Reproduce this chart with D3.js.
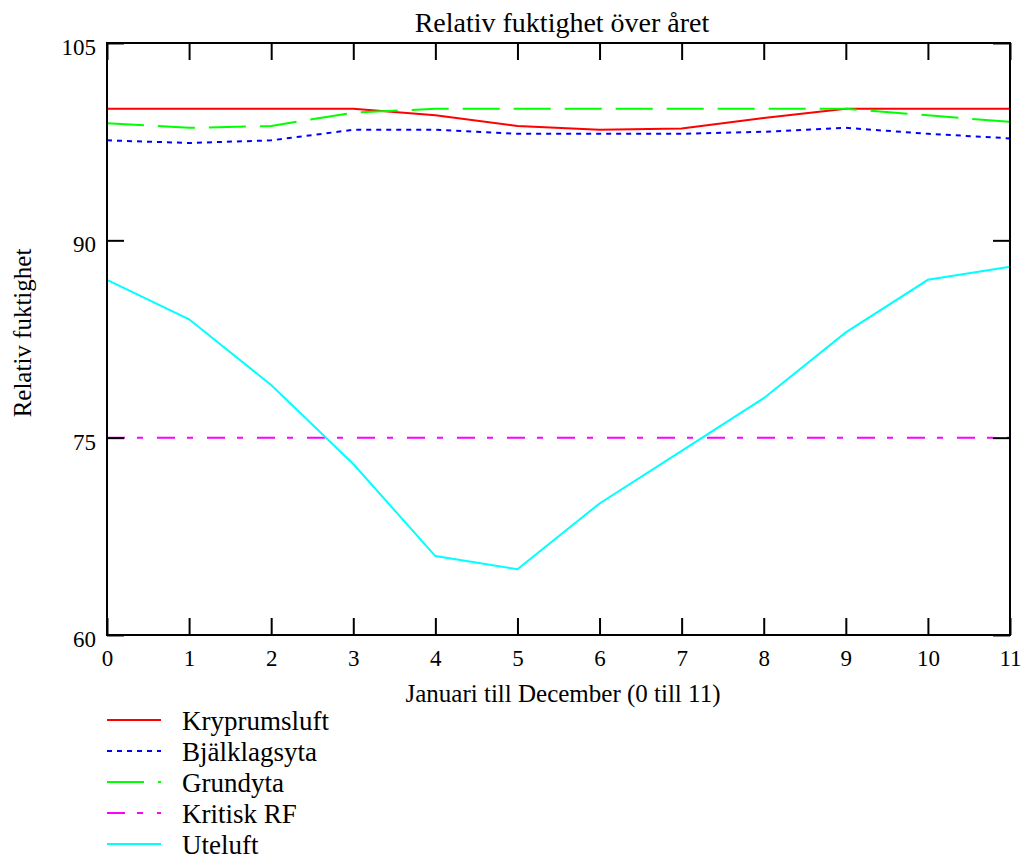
<!DOCTYPE html>
<html>
<head>
<meta charset="utf-8">
<script src="https://cdn.jsdelivr.net/npm/d3@7"></script>
<style>
  body { margin: 0; background: #fff; }
  text { font-family: "Liberation Serif", "Times New Roman", serif; fill: #000; }
</style>
</head>
<body>
<div id="chart"></div>
<script>
// months 0..11
var months = [0, 1, 2, 3, 4, 5, 6, 7, 8, 9, 10, 11];
var kryprumsluft = [100, 100, 100, 100, 99.5, 98.7, 98.4, 98.5, 99.3, 100, 100, 100];
var bjalklagsyta = [97.6, 97.4, 97.6, 98.4, 98.4, 98.1, 98.1, 98.1, 98.25, 98.55, 98.1, 97.75];
var grundyta = [98.9, 98.55, 98.7, 99.7, 100, 100, 100, 100, 100, 100, 99.5, 99.0];
var kritiskRF = [75, 75, 75, 75, 75, 75, 75, 75, 75, 75, 75, 75];
var uteluft = [87, 84, 79, 73, 66, 65, 70, 74, 78, 83, 87, 88];
var yTicks = [60, 75, 90, 105];
var xTicks = months;

var seriesNames = ["Kryprumsluft", "Bjälklagsyta", "Grundyta", "Kritisk RF", "Uteluft"];
var seriesValues = [kryprumsluft, bjalklagsyta, grundyta, kritiskRF, uteluft];
var colors = ["#ff0000", "#0000ff", "#00ff00", "#ff00ff", "#00ffff"];
var dashes = [null, "5,5", "37,14", "18,12,6,14", null];

var w = 1026, h = 863;
var plotL = 107, plotR = 1010, plotT = 43, plotB = 635;

var svg = d3.select("#chart").append("svg")
    .attr("width", w)
    .attr("height", h);

var x = d3.scaleLinear().domain([0, 11]).range([plotL, plotR]);
var y = d3.scaleLinear().domain([60, 105]).range([plotB, plotT]);

// lines
var line = d3.line()
    .x(function(d, i) { return x(months[i]); })
    .y(function(d) { return y(d); });

seriesValues.forEach(function(vals, k) {
    svg.append("path")
        .datum(vals)
        .attr("d", line)
        .attr("fill", "none")
        .attr("stroke", colors[k])
        .attr("stroke-width", 2)
        .attr("stroke-dasharray", dashes[k]);
});

// axes with inward ticks
function styleAxis(g) {
    g.select(".domain").remove();
    g.selectAll(".tick line").attr("stroke", "#000").attr("stroke-width", 2);
    g.selectAll(".tick text").attr("font-size", "23px")
        .attr("font-family", "Liberation Serif, serif").attr("fill", "#000");
}

svg.append("g")
    .attr("transform", "translate(0," + plotB + ")")
    .call(d3.axisBottom(x).tickValues(xTicks).tickSizeInner(-17).tickSizeOuter(0).tickPadding(15))
    .call(styleAxis);

svg.append("g")
    .attr("transform", "translate(0," + plotT + ")")
    .call(d3.axisTop(x).tickValues(xTicks).tickSizeInner(-17).tickSizeOuter(0).tickFormat(""))
    .call(styleAxis);

svg.append("g")
    .attr("transform", "translate(" + plotL + ",0)")
    .call(d3.axisLeft(y).tickValues(yTicks).tickSizeInner(-17).tickSizeOuter(0).tickPadding(11))
    .call(styleAxis)
    .selectAll(".tick text").attr("dy", "0.5em");

svg.append("g")
    .attr("transform", "translate(" + plotR + ",0)")
    .call(d3.axisRight(y).tickValues(yTicks).tickSizeInner(-17).tickSizeOuter(0).tickFormat(""))
    .call(styleAxis);

// frame
svg.append("rect")
    .attr("x", plotL)
    .attr("y", plotT)
    .attr("width", plotR - plotL)
    .attr("height", plotB - plotT)
    .attr("fill", "none")
    .attr("stroke", "#000")
    .attr("stroke-width", 2);

// title and axis labels
svg.append("text")
    .attr("x", 562)
    .attr("y", 32)
    .attr("text-anchor", "middle")
    .attr("font-size", "28px")
    .text("Relativ fuktighet över året");

svg.append("text")
    .attr("x", 563)
    .attr("y", 702)
    .attr("text-anchor", "middle")
    .attr("font-size", "25px")
    .text("Januari till December (0 till 11)");

svg.append("text")
    .attr("transform", "translate(31,333) rotate(-90)")
    .attr("text-anchor", "middle")
    .attr("font-size", "25px")
    .text("Relativ fuktighet");

// legend
var legend = svg.selectAll(".legend")
    .data(seriesNames)
    .enter()
    .append("g")
    .attr("transform", function(d, i) {
        return "translate(0," + (720 + i * 31) + ")";
    });

legend.append("line")
    .attr("x1", 107)
    .attr("x2", 161)
    .attr("y1", 0)
    .attr("y2", 0)
    .attr("stroke", function(d, i) { return colors[i]; })
    .attr("stroke-width", 2)
    .attr("stroke-dasharray", function(d, i) { return dashes[i]; });

legend.append("text")
    .attr("x", 182)
    .attr("y", 10)
    .attr("font-size", "27px")
    .text(function(d) { return d; });
</script>
</body>
</html>
